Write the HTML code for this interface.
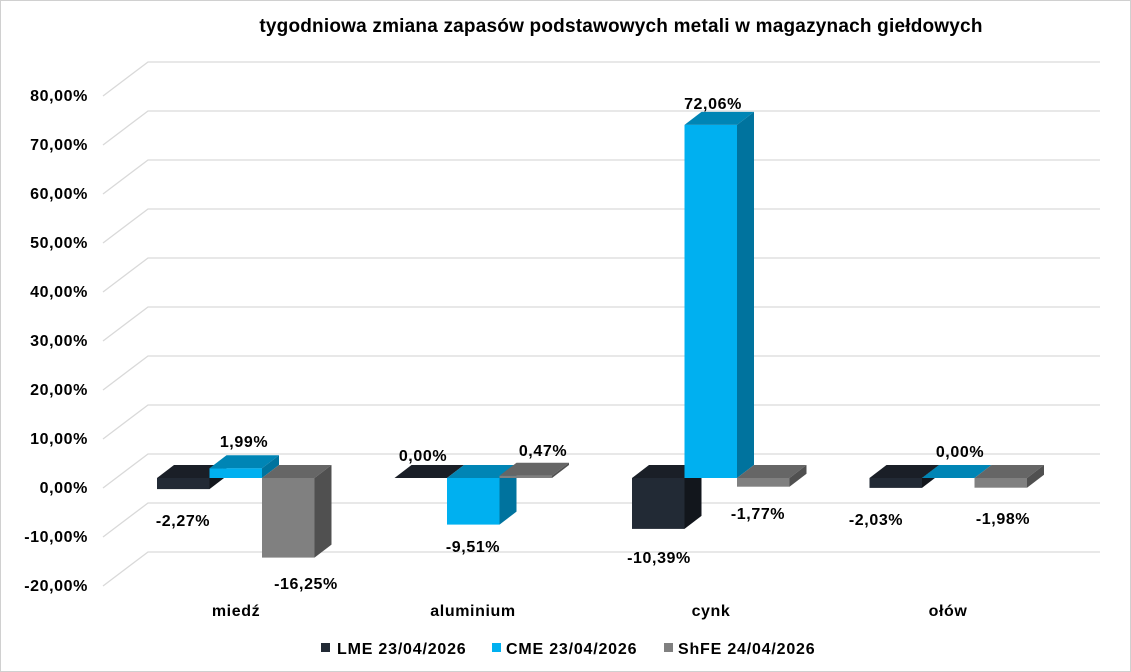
<!DOCTYPE html>
<html><head><meta charset="utf-8"><style>
body{margin:0;background:#fff}
svg{display:block;font-family:"Liberation Sans","DejaVu Sans",sans-serif}
</style></head><body>
<svg width="1131" height="672" viewBox="0 0 1131 672">
<rect x="0.5" y="0.5" width="1130" height="671" fill="#fff" stroke="#d0d0d0"/>
<text x="621" y="32" text-anchor="middle" font-size="19" letter-spacing="0.2" font-weight="bold" fill="#000">tygodniowa zmiana zapasów podstawowych metali w magazynach giełdowych</text>
<g stroke="#d9d9d9" stroke-width="1.3" fill="none">
<polyline points="103,96 148,62 1100,62"/>
<polyline points="103,145 148,111 1100,111"/>
<polyline points="103,194 148,160 1100,160"/>
<polyline points="103,243 148,209 1100,209"/>
<polyline points="103,292 148,258 1100,258"/>
<polyline points="103,341 148,307 1100,307"/>
<polyline points="103,390 148,356 1100,356"/>
<polyline points="103,439 148,405 1100,405"/>
<polyline points="103,488 148,454 1100,454"/>
<polyline points="103,537 148,503 1100,503"/>
<polyline points="103,586 148,552 1100,552"/>
</g>
<g font-size="16" letter-spacing="0.6" font-weight="bold" fill="#000" text-anchor="end">
<text x="88" y="101">80,00%</text>
<text x="88" y="150">70,00%</text>
<text x="88" y="199">60,00%</text>
<text x="88" y="248">50,00%</text>
<text x="88" y="297">40,00%</text>
<text x="88" y="346">30,00%</text>
<text x="88" y="395">20,00%</text>
<text x="88" y="444">10,00%</text>
<text x="88" y="493">0,00%</text>
<text x="88" y="542">-10,00%</text>
<text x="88" y="591">-20,00%</text>
</g>
<!-- miedź -->
<rect x="157" y="478" width="52.5" height="11.1" fill="#222a35"/>
<polygon points="157,478 209.5,478 226.5,465 174,465" fill="#1a1f27"/>
<polygon points="209.5,478 226.5,465 226.5,476.1 209.5,489.1" fill="#12161c"/>
<rect x="209.5" y="468.2" width="52.5" height="9.8" fill="#00b0f0"/>
<polygon points="209.5,468.2 262,468.2 279,455.2 226.5,455.2" fill="#0085b5"/>
<polygon points="262,468.2 279,455.2 279,465 262,478" fill="#00739e"/>
<rect x="262" y="478" width="52.5" height="79.6" fill="#808080"/>
<polygon points="262,478 314.5,478 331.5,465 279,465" fill="#666"/>
<polygon points="314.5,478 331.5,465 331.5,544.6 314.5,557.6" fill="#505050"/>
<!-- aluminium -->
<polygon points="394.5,478 447,478 464,465 411.5,465" fill="#1a1f27"/>
<rect x="447" y="478" width="52.5" height="46.6" fill="#00b0f0"/>
<polygon points="447,478 499.5,478 516.5,465 464,465" fill="#0085b5"/>
<polygon points="499.5,478 516.5,465 516.5,511.6 499.5,524.6" fill="#00739e"/>
<rect x="499.5" y="475.7" width="52.5" height="2.3" fill="#808080"/>
<polygon points="499.5,475.7 552,475.7 569,462.7 516.5,462.7" fill="#666"/>
<polygon points="552,475.7 569,462.7 569,465 552,478" fill="#505050"/>
<!-- cynk -->
<rect x="632" y="478" width="52.5" height="50.9" fill="#222a35"/>
<polygon points="632,478 684.5,478 701.5,465 649,465" fill="#1a1f27"/>
<polygon points="684.5,478 701.5,465 701.5,515.9 684.5,528.9" fill="#12161c"/>
<rect x="684.5" y="124.9" width="52.5" height="353.1" fill="#00b0f0"/>
<polygon points="684.5,124.9 737,124.9 754,111.9 701.5,111.9" fill="#0085b5"/>
<polygon points="737,124.9 754,111.9 754,465 737,478" fill="#00739e"/>
<rect x="737" y="478" width="52.5" height="8.7" fill="#808080"/>
<polygon points="737,478 789.5,478 806.5,465 754,465" fill="#666"/>
<polygon points="789.5,478 806.5,465 806.5,473.7 789.5,486.7" fill="#505050"/>
<!-- ołów -->
<rect x="869.5" y="478" width="52.5" height="9.9" fill="#222a35"/>
<polygon points="869.5,478 922,478 939,465 886.5,465" fill="#1a1f27"/>
<polygon points="922,478 939,465 939,474.9 922,487.9" fill="#12161c"/>
<polygon points="922,478 974.5,478 991.5,465 939,465" fill="#0085b5"/>
<rect x="974.5" y="478" width="52.5" height="9.7" fill="#808080"/>
<polygon points="974.5,478 1027,478 1044,465 991.5,465" fill="#666"/>
<polygon points="1027,478 1044,465 1044,474.7 1027,487.7" fill="#505050"/>
<g font-size="16" letter-spacing="0.6" font-weight="bold" fill="#000" text-anchor="middle">
<text x="183" y="526">-2,27%</text>
<text x="244" y="447">1,99%</text>
<text x="306" y="589">-16,25%</text>
<text x="423" y="461">0,00%</text>
<text x="473" y="552">-9,51%</text>
<text x="543" y="456">0,47%</text>
<text x="713" y="109">72,06%</text>
<text x="659" y="563">-10,39%</text>
<text x="758" y="519">-1,77%</text>
<text x="876" y="525">-2,03%</text>
<text x="960" y="457">0,00%</text>
<text x="1003" y="524">-1,98%</text>
<text x="236" y="616">miedź</text>
<text x="473" y="616">aluminium</text>
<text x="711" y="616">cynk</text>
<text x="948" y="616">ołów</text>
</g>
<rect x="321" y="643" width="9" height="9" fill="#222a35"/>
<rect x="492" y="643" width="9" height="9" fill="#00b0f0"/>
<rect x="664" y="643" width="9" height="9" fill="#808080"/>
<g font-size="16" letter-spacing="0.8" font-weight="bold" fill="#000">
<text x="337" y="654">LME 23/04/2026</text>
<text x="506" y="654">CME 23/04/2026</text>
<text x="678" y="654">ShFE 24/04/2026</text>
</g>
</svg>
</body></html>
